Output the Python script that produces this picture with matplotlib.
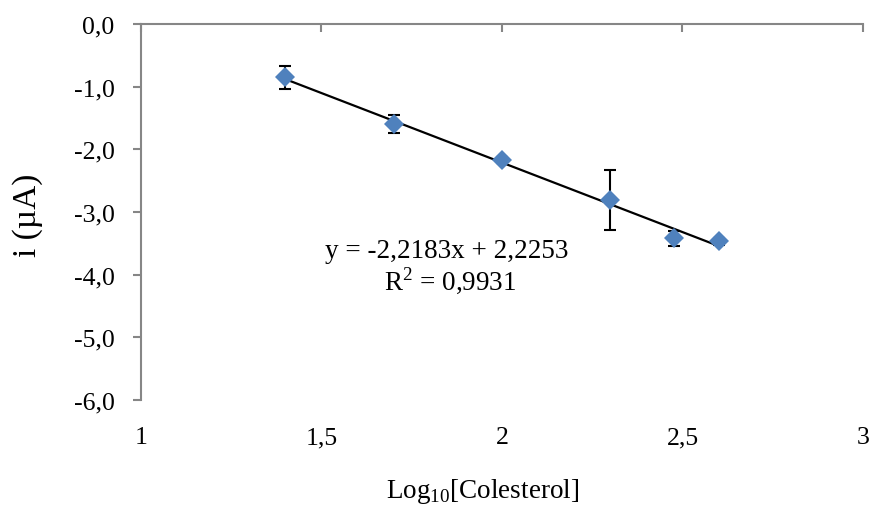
import matplotlib
matplotlib.use("Agg")
import matplotlib.pyplot as plt
import numpy as np

# Data
log_conc = [1.4, 1.7, 2.0, 2.3, 2.477, 2.6]
current = [-0.85, -1.60, -2.17, -2.81, -3.42, -3.47]
err = [0.18, 0.14, 0.05, 0.48, 0.12, 0.05]
slope = -2.2183
intercept = 2.2253
r2 = 0.9931
xticks = [1, 1.5, 2, 2.5, 3]
xtick_labels = ["1", "1,5", "2", "2,5", "3"]
yticks = [0, -1, -2, -3, -4, -5, -6]
ytick_labels = ["0,0", "-1,0", "-2,0", "-3,0", "-4,0", "-5,0", "-6,0"]

plt.rcParams['font.family'] = ['Liberation Serif', 'DejaVu Serif']
plt.rcParams['mathtext.fontset'] = 'custom'
plt.rcParams['mathtext.rm'] = 'Liberation Serif'

fig = plt.figure(figsize=(8.7, 5.06), dpi=100)
ax = fig.add_axes([141/870, 1-401/506, (863-141)/870, (401-25)/506])

spine_col = '#868686'
ax.set_xlim(1, 3)
ax.set_ylim(-6, 0)
for s in ['right', 'bottom']:
    ax.spines[s].set_visible(False)
for s in ['top', 'left']:
    ax.spines[s].set_color(spine_col)
    ax.spines[s].set_linewidth(1.5)

ax.set_xticks(xticks)
ax.set_xticklabels(xtick_labels)
ax.set_yticks(yticks)
ax.set_yticklabels(ytick_labels)
ax.tick_params(axis='x', top=True, bottom=False, labeltop=False, labelbottom=True,
               direction='in', length=6, width=1.5, color=spine_col, pad=19, labelsize=18.5)
ax.tick_params(axis='y', direction='out', length=6, width=1.5, color=spine_col,
               pad=13, labelsize=18.5)

# Trendline
xl = np.array([log_conc[0], log_conc[-1]])
ax.plot(xl, slope*xl + intercept, color='black', lw=1.6, zorder=2)

ax.errorbar(log_conc, current, yerr=err, fmt='none', ecolor='black', elinewidth=1.5,
            capsize=4.3, capthick=1.5, zorder=3)
ax.plot(log_conc, current, 'D', color='#4F81BD', markersize=10.5, markeredgewidth=0, zorder=4)

eq = f"y = {slope:.4f}x + {intercept:.4f}".replace('.', ',')
fig.text(447/870, 1-252/506, eq, ha='center', va='center', fontsize=19.5)
fig.text(450/870, 1-281/506, f"R$^2$ = {r2:.4f}".replace('.', ','),
         ha='center', va='center', fontsize=19.5)

fig.text(28/870, 1-215/506, "i (µA)", rotation=90, ha='center', va='center', fontsize=24)
fig.text(483/870, 1-492/506, "Log$_{10}$[Colesterol]", ha='center', va='center', fontsize=19.5)

fig.savefig("out.png", dpi=100)
